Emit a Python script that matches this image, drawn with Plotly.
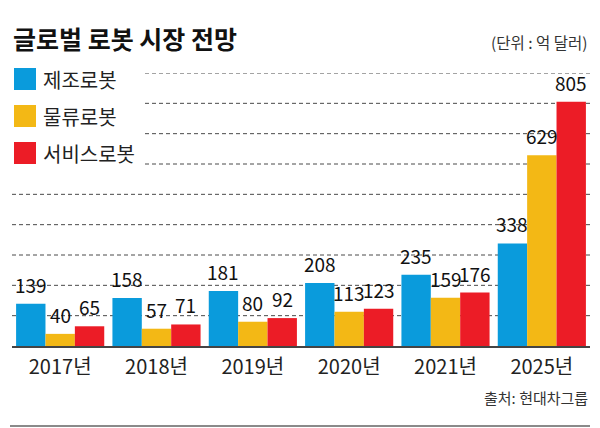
import plotly.graph_objects as go

# 데이터 (단위: 억 달러)
years = ["2017년", "2018년", "2019년", "2020년", "2021년", "2025년"]
manufacturing = [139, 158, 181, 208, 235, 338]
logistics = [40, 57, 80, 113, 159, 629]
service = [65, 71, 92, 123, 176, 805]

series_names = ["제조로봇", "물류로봇", "서비스로봇"]
series_values = [manufacturing, logistics, service]
series_colors = ["#0A9BDC", "#F3B815", "#EC1C26"]

grid_values = [100, 200, 300, 400, 500, 600, 700, 800, 900]

FONT = "Noto Sans CJK KR"
W, H = 600, 428
L, R, T, B = 12, 10, 73, 82
bargap = 0.085


# 픽셀 -> paper 좌표
def px_x(p):
    return (p - L) / (W - L - R)


def px_y(p):
    return (H - B - p) / (H - T - B)


fig = go.Figure()
for name, vals, col in zip(series_names, series_values, series_colors):
    fig.add_trace(go.Bar(x=years, y=vals, name=name, marker_color=col,
                         marker_line_width=0, showlegend=False))

annotations = []
shapes = []

# 막대 위 값 표시
w = (1 - bargap) / len(series_values)
for j, vals in enumerate(series_values):
    for i, v in enumerate(vals):
        annotations.append(dict(
            x=i + (j - 1) * w, y=v, xref="x", yref="y", text=str(v),
            showarrow=False, yanchor="bottom", yshift=4,
            font=dict(family=FONT, size=19, color="#111")))

# 점선 격자 (범례 옆은 짧게)
for g in grid_values:
    shapes.append(dict(type="line", xref="paper", yref="y",
                       x0=px_x(145) if g >= 600 else 0, x1=1, y0=g, y1=g,
                       line=dict(color="#4a4a4a", width=1, dash="4px,3px"),
                       layer="below"))

# 범례
for k, (name, col) in enumerate(zip(series_names, series_colors)):
    cy = 79 + k * 37
    shapes.append(dict(type="rect", xref="paper", yref="paper",
                       x0=px_x(14), x1=px_x(36), y0=px_y(cy - 11), y1=px_y(cy + 11),
                       fillcolor=col, line_width=0))
    annotations.append(dict(x=px_x(41), y=px_y(cy), xref="paper", yref="paper",
                            text=name, showarrow=False, xanchor="left", yanchor="middle",
                            font=dict(family=FONT, size=20, color="#222")))

# 제목, 단위, 출처
annotations.append(dict(x=px_x(11), y=px_y(38), xref="paper", yref="paper",
                        text="<b>글로벌 로봇 시장 전망</b>", showarrow=False,
                        xanchor="left", yanchor="middle",
                        font=dict(family=FONT, size=25, color="#111")))
annotations.append(dict(x=1, y=px_y(42), xref="paper", yref="paper",
                        text="(단위 : 억 달러)", showarrow=False,
                        xanchor="right", yanchor="middle",
                        font=dict(family=FONT, size=15.5, color="#333")))
annotations.append(dict(x=1, y=px_y(397), xref="paper", yref="paper",
                        text="출처: 현대차그룹", showarrow=False,
                        xanchor="right", yanchor="middle",
                        font=dict(family=FONT, size=15, color="#333")))

# 하단 회색 줄
shapes.append(dict(type="line", xref="paper", yref="paper",
                   x0=px_x(10), x1=1, y0=px_y(426), y1=px_y(426),
                   line=dict(color="#8a8a8a", width=2)))

fig.update_layout(
    width=W, height=H,
    margin=dict(l=L, r=R, t=T, b=B),
    barmode="group", bargap=bargap, bargroupgap=0,
    plot_bgcolor="white", paper_bgcolor="white",
    annotations=annotations, shapes=shapes,
    font=dict(family=FONT),
)
fig.update_xaxes(showline=True, linecolor="#444", linewidth=1.5,
                 ticks="outside", ticklen=2, tickcolor="rgba(0,0,0,0)",
                 tickfont=dict(family=FONT, size=20, color="#222"),
                 showgrid=False, fixedrange=True)
fig.update_yaxes(range=[0, 900], showticklabels=False, showgrid=False,
                 zeroline=False, fixedrange=True)

fig.write_html("out.html", config={"displayModeBar": False},
               post_script="document.body.style.margin='0';")
